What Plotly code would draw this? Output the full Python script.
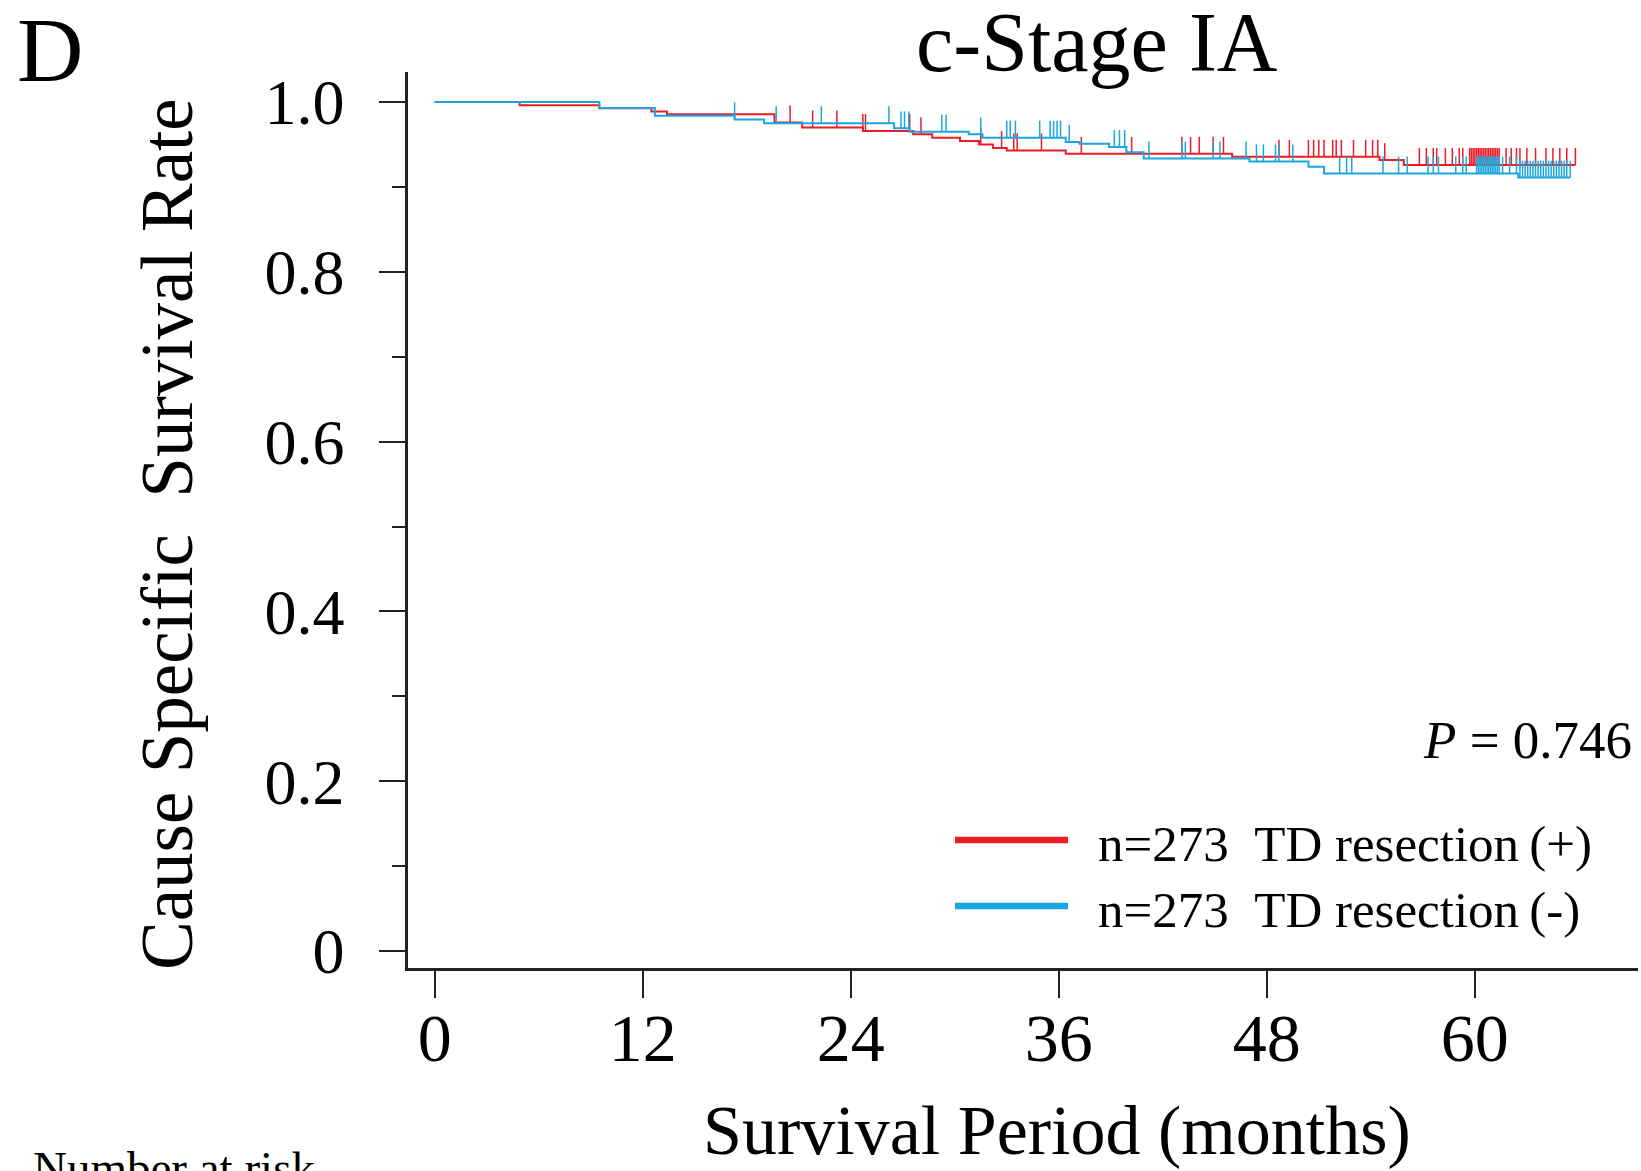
import numpy as np
import plotly.graph_objects as go

# ---------------- data ----------------
red_event_times = [4.9, 9.5, 12.5, 13.4, 19.6, 21.2, 24.7, 27.6, 28.7, 30.3, 31.4, 32.2, 33.0, 36.4, 46.0, 54.5, 55.9]
red_surv = [0.9963, 0.9927, 0.989, 0.9855, 0.976, 0.970, 0.966, 0.962, 0.958, 0.954, 0.950, 0.946, 0.943, 0.939, 0.9355, 0.9316, 0.926]
red_censor = [20.5, 21.8, 23.2, 24.7, 24.85, 27.4, 28.05, 31.5, 32.7, 33.4, 33.6, 35.0, 37.3, 40.2, 43.1, 43.6,
              44.1, 44.9, 45.5, 48.7, 49.3, 50.4, 50.7, 51.0, 51.3, 51.8, 52.0, 52.3, 53.0, 53.7, 54.1, 54.4,
              54.8, 56.8, 57.2, 57.6, 57.8, 58.3, 58.7, 59.1, 59.3, 59.7, 59.8, 59.9, 60.0, 60.1, 60.2, 60.3,
              60.4, 60.5, 60.6, 60.7, 60.8, 60.9, 61.0, 61.1, 61.2, 61.3, 61.4, 61.8, 62.1, 62.4, 62.6, 63.0,
              63.5, 64.1, 64.5, 64.9, 65.3, 65.8]

blue_event_times = [9.5, 12.7, 17.3, 19.0, 26.5, 27.4, 30.8, 31.6, 36.4, 37.2, 38.9, 39.9, 40.9, 47.0, 50.4, 51.3, 62.5]
blue_surv = [0.993, 0.984, 0.9795, 0.975, 0.969, 0.965, 0.962, 0.958, 0.953, 0.951, 0.947, 0.941, 0.9335, 0.930, 0.9237, 0.9158, 0.911]
blue_censor = [17.3, 19.7, 22.3, 26.2, 26.9, 27.1, 27.35, 29.25, 29.5, 31.5, 33.0, 33.2, 33.5, 34.9, 35.5, 35.7,
               35.9, 36.1, 36.6, 39.2, 39.5, 39.8, 41.2, 43.1, 43.3, 44.9, 45.3, 46.8, 47.4, 47.8, 48.5, 48.7,
               49.5, 52.2, 52.6, 52.9, 54.7, 55.6, 56.1, 57.3, 57.6, 57.9, 58.9, 59.3, 59.5, 60.1, 60.2, 60.3,
               60.4, 60.5, 60.6, 60.7, 60.8, 60.9, 61.0, 61.1, 61.2, 61.3, 61.4, 61.6, 62.0, 62.4, 62.6, 62.75,
               62.9, 63.05, 63.2, 63.35, 63.5, 63.65, 63.8, 63.95, 64.1, 64.25, 64.4, 64.55, 64.7, 64.85, 65.0,
               65.15, 65.3, 65.5]

x_ticks = [0, 12, 24, 36, 48, 60]
y_ticks = [0, 0.2, 0.4, 0.6, 0.8, 1.0]
y_ticktext = ["0", "0.2", "0.4", "0.6", "0.8", "1.0"]

group_labels = ["n=273\u00a0\u00a0TD resection\u2009(+)", "n=273\u00a0\u00a0TD resection\u2009(-)"]
title_text = "c-Stage IA"
panel_label = "D"
p_text = "<i>P</i> = 0.746"

RED = "#EE1C25"
BLUE = "#1AA7E0"

# ---------------- layout geometry ----------------
W, H = 1641, 1171
L, R, T, B = 408, 3, 72, 203
FONT = "Liberation Serif"


def pxx(xp):
    return (xp - L) / (W - L - R)


def pxy(yp):
    return (H - B - yp) / (H - T - B)


def km_curve(times, surv, censor):
    t_end = max(max(censor), max(times))
    xs = [0.0] + list(times) + [t_end]
    ys = [1.0] + list(surv) + [surv[-1]]
    return xs, ys


def surv_at(times, surv, t):
    idx = np.searchsorted(np.asarray(times), t, side="right")
    return 1.0 if idx == 0 else surv[idx - 1]


def censor_marks(times, surv, censor, h=0.02):
    cx, cy = [], []
    for c in censor:
        s = surv_at(times, surv, c)
        cx += [c, c, None]
        cy += [s, s + h, None]
    return cx, cy


fig = go.Figure()
for times, surv, cens, col in [(red_event_times, red_surv, red_censor, RED),
                               (blue_event_times, blue_surv, blue_censor, BLUE)]:
    xs, ys = km_curve(times, surv, cens)
    fig.add_trace(go.Scatter(x=xs, y=ys, mode="lines", line=dict(color=col, width=2, shape="hv"),
                             showlegend=False, hoverinfo="skip"))
    cx, cy = censor_marks(times, surv, cens)
    fig.add_trace(go.Scatter(x=cx, y=cy, mode="lines", line=dict(color=col, width=1.5),
                             showlegend=False, hoverinfo="skip"))

axis_col = "#222222"
fig.update_layout(
    width=W, height=H,
    margin=dict(l=L, r=R, t=T, b=B, pad=0),
    paper_bgcolor="white", plot_bgcolor="white",
    font=dict(family=FONT, color="black"),
    showlegend=False,
    xaxis=dict(range=[-1.539, 69.41], tickvals=x_ticks, ticks="outside", ticklen=27, tickwidth=1.5,
               tickcolor=axis_col, showline=True, linecolor=axis_col, linewidth=2.5, showgrid=False,
               zeroline=False, tickfont=dict(family=FONT, size=68, color="black"), ticklabelstandoff=-18),
    yaxis=dict(range=[-0.02, 1.0354], tickvals=y_ticks, ticktext=y_ticktext, ticks="outside", ticklen=26,
               tickwidth=1.5, tickcolor=axis_col, showline=True, linecolor=axis_col, linewidth=2.5,
               showgrid=False, zeroline=False, tickfont=dict(family=FONT, size=64, color="black"),
               ticklabelstandoff=22,
               minor=dict(tickvals=[0.1, 0.3, 0.5, 0.7, 0.9], ticks="outside", ticklen=13, tickwidth=1.5,
                          tickcolor=axis_col, showgrid=False)),
)

ann = []
ann.append(dict(text=panel_label, x=pxx(15), y=pxy(50), xanchor="left", yanchor="middle",
                font=dict(family=FONT, size=92)))
ann.append(dict(text=title_text, x=pxx(1097), y=pxy(42), xanchor="center", yanchor="middle",
                font=dict(family=FONT, size=84)))
ann.append(dict(text="Cause Specific\u00a0\u00a0Survival Rate", x=pxx(167), y=pxy(534), textangle=-90,
                xanchor="center", yanchor="middle", font=dict(family=FONT, size=73)))
ann.append(dict(text="Survival Period (months)", x=pxx(1057), y=pxy(1130), xanchor="center",
                yanchor="middle", font=dict(family=FONT, size=70)))
ann.append(dict(text="Number at risk", x=pxx(31), y=pxy(1168), xanchor="left", yanchor="middle",
                font=dict(family=FONT, size=47)))
ann.append(dict(text=p_text, x=pxx(1634), y=pxy(740), xanchor="right", yanchor="middle",
                font=dict(family=FONT, size=53)))
for i, (lab, col, yl) in enumerate([(group_labels[0], RED, 840), (group_labels[1], BLUE, 906)]):
    ann.append(dict(text=lab, x=pxx(1096), y=pxy(yl + 4), xanchor="left", yanchor="middle",
                    font=dict(family=FONT, size=51)))
    fig.add_shape(type="line", xref="paper", yref="paper", x0=pxx(955), x1=pxx(1068), y0=pxy(yl), y1=pxy(yl),
                  line=dict(color=col, width=6.5))
for a in ann:
    a.update(xref="paper", yref="paper", showarrow=False)
fig.update_layout(annotations=ann)

fig.write_html("out.html")
